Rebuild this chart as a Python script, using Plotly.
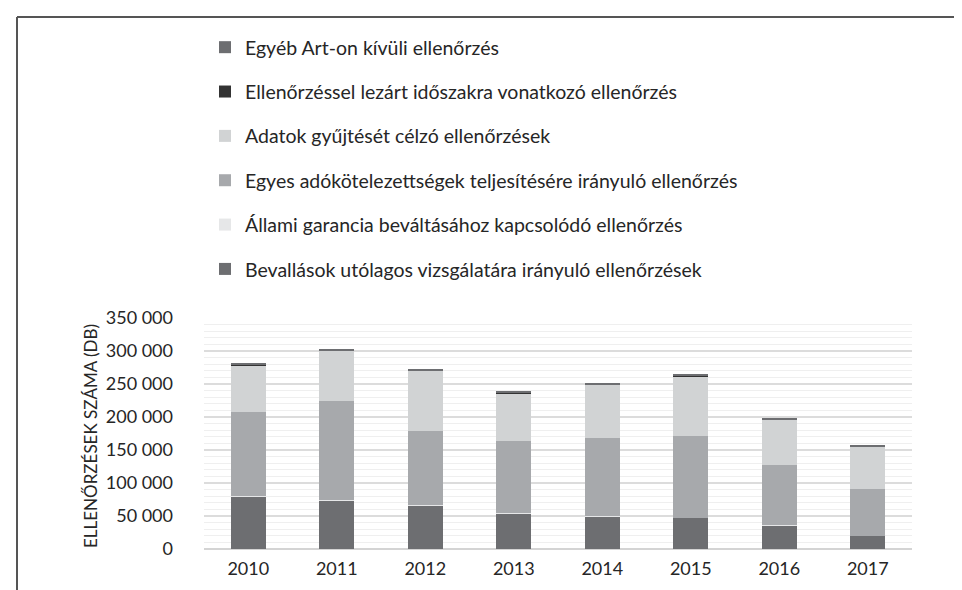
import plotly.graph_objects as go

W, H = 962, 590
ML, MR, MT, MB = 196, 58, 310, 49

years = ["2010", "2011", "2012", "2013", "2014", "2015", "2016", "2017"]

bevallasok = [79000, 74000, 66000, 53500, 49000, 47500, 35500, 20000]
allami = [600, 500, 400, 300, 300, 200, 200, 100]
egyes = [128000, 149500, 112000, 110500, 119000, 123000, 91000, 71400]
adatok = [71000, 77000, 91500, 72000, 80500, 91300, 69000, 64100]
lezart = [400, 400, 400, 400, 400, 400, 300, 300]
egyeb = [2000, 2300, 1900, 1900, 2000, 2000, 1600, 1500]

series = [
    ("Bevallások utólagos vizsgálatára irányuló ellenőrzések", bevallasok, "#6d6e71"),
    ("Állami garancia beváltásához kapcsolódó ellenőrzés", allami, "#e6e7e8"),
    ("Egyes adókötelezettségek teljesítésére irányuló ellenőrzés", egyes, "#a7a9ac"),
    ("Adatok gyűjtését célzó ellenőrzések", adatok, "#d1d3d4"),
    ("Ellenőrzéssel lezárt időszakra vonatkozó ellenőrzés", lezart, "#333333"),
    ("Egyéb Art-on kívüli ellenőrzés", egyeb, "#6d6e71"),
]

FONT = "Lato"
TXT = "#262626"

fig = go.Figure()
n = len(series)
for i, (name, vals, col) in enumerate(series):
    fig.add_trace(go.Bar(
        x=years, y=vals, name=name, legendgroup=f"g{i}",
        legendrank=n - i,
        marker=dict(color=col, line=dict(width=0)),
    ))

pw = W - ML - MR
ph = H - MT - MB
def px(x):
    return (x - ML) / pw
def py(y):
    return (H - MB - y) / ph

fig.update_layout(
    width=W, height=H,
    margin=dict(l=ML, r=MR, t=MT, b=MB, pad=0, autoexpand=False),
    barmode="stack", bargap=0.6,
    paper_bgcolor="white", plot_bgcolor="white",
    separators=", ",
    font=dict(family=FONT, color=TXT, size=16),
    legend=dict(
        xref="container", yref="container",
        x=197 / W, y=1 - 20 / H, xanchor="left", yanchor="top",
        traceorder="grouped", tracegroupgap=16,
        font=dict(family=FONT, size=19.5, color=TXT),
        bgcolor="rgba(0,0,0,0)",
    ),
    showlegend=True,
    xaxis=dict(
        showline=False, ticks="", tickfont=dict(size=18, color=TXT),
        ticklabelstandoff=7, tickangle=0,
    ),
    yaxis=dict(
        range=[0, 350000], dtick=50000, tickformat=",",
        showgrid=True, gridcolor="#dcdcdc", gridwidth=1.5,
        zeroline=True, zerolinecolor="#d4d4d4", zerolinewidth=1.5,
        minor=dict(dtick=10000, showgrid=True, gridcolor="#efefef", gridwidth=1),
        tickfont=dict(size=18, color=TXT),
        ticklabelstandoff=30,
    ),
    annotations=[
        dict(text="ELLENŐRZÉSEK SZÁMA (DB)", textangle=-90,
             xref="paper", yref="paper", x=px(82), y=py(428),
             xanchor="center", yanchor="middle", showarrow=False,
             font=dict(size=17, color=TXT, family=FONT)),
    ],
    shapes=[
        dict(type="line", xref="paper", yref="paper",
             x0=px(9), x1=px(W + 5), y0=py(9), y1=py(9),
             line=dict(color="#555555", width=2)),
        dict(type="line", xref="paper", yref="paper",
             x0=px(9), x1=px(9), y0=py(9), y1=py(H + 5),
             line=dict(color="#555555", width=2)),
    ],
)

fig.write_html("out.html")
